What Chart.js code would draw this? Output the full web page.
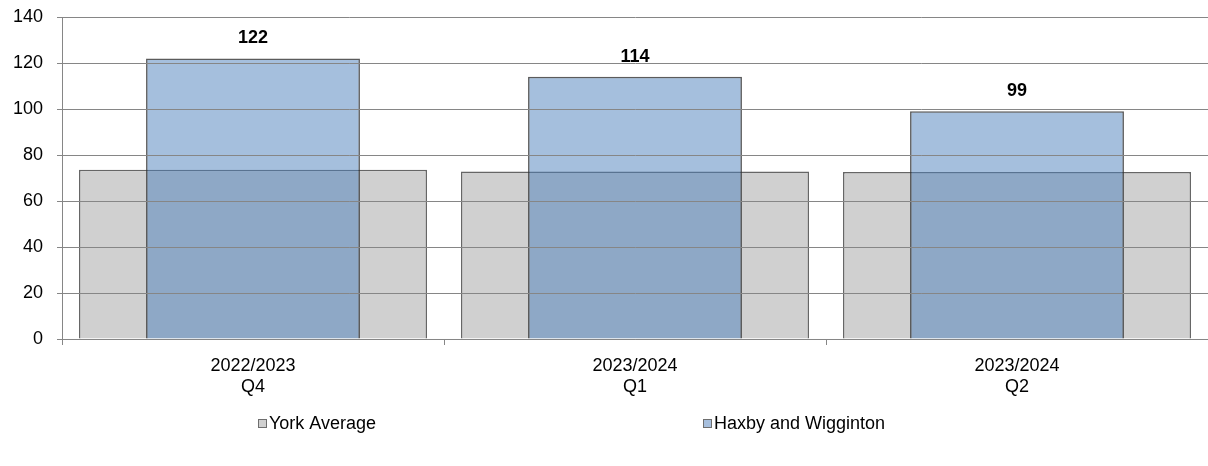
<!DOCTYPE html>
<html>
<head>
<meta charset="utf-8">
<script src="https://cdn.jsdelivr.net/npm/chart.js@4/dist/chart.umd.min.js"></script>
<style>
html,body{margin:0;padding:0;background:#fff;}
#wrap{width:1208px;height:466px;position:relative;}
</style>
</head>
<body>
<div id="wrap"><canvas id="c" width="1208" height="466"></canvas></div>
<script>
const categories = [["2022/2023","Q4"],["2023/2024","Q1"],["2023/2024","Q2"]];
const yorkAverage = [73.6, 72.8, 72.6];
const haxbyWigginton = [122, 114, 99];
const seriesNames = ["York Average", "Haxby and Wigginton"];
const yTicks = [0, 20, 40, 60, 80, 100, 120, 140];

const FONT = "'Liberation Sans', Arial, sans-serif";
const grayFill = '#D0D0D0';
const blueFill = 'rgba(76,127,187,0.5)';
const blueSwatch = '#A7BFDD';

const valueLabels = {
  id: 'valueLabels',
  afterDatasetsDraw(chart) {
    const ctx = chart.ctx;
    const meta = chart.getDatasetMeta(1);
    ctx.save();
    ctx.font = 'bold 18px ' + FONT;
    ctx.fillStyle = '#000';
    ctx.textAlign = 'center';
    ctx.textBaseline = 'bottom';
    meta.data.forEach((bar, i) => {
      ctx.fillText(String(haxbyWigginton[i]), bar.x, bar.y - 11);
    });
    ctx.restore();
  }
};

const customLegend = {
  id: 'customLegend',
  afterDraw(chart) {
    const ctx = chart.ctx;
    const items = [
      {text: seriesNames[0], fill: grayFill, x: 258},
      {text: seriesNames[1], fill: blueSwatch, x: 703}
    ];
    const y = 424;
    ctx.save();
    ctx.font = '18px ' + FONT;
    ctx.textBaseline = 'middle';
    ctx.textAlign = 'left';
    items.forEach(it => {
      ctx.fillStyle = it.fill;
      ctx.fillRect(it.x, y - 5, 9, 9);
      ctx.strokeStyle = '#6e6e6e';
      ctx.lineWidth = 1;
      ctx.strokeRect(it.x + 0.5, y - 4.5, 8, 8);
      ctx.fillStyle = '#000';
      ctx.fillText(it.text, it.x + 11, y);
    });
    ctx.restore();
  }
};

new Chart(document.getElementById('c'), {
  type: 'bar',
  data: {
    labels: categories,
    datasets: [
      {
        label: seriesNames[0],
        data: yorkAverage,
        backgroundColor: grayFill,
        borderColor: '#666666',
        borderWidth: 1.5,
        grouped: false,
        categoryPercentage: 1,
        barPercentage: 0.911,
        order: 2
      },
      {
        label: seriesNames[1],
        data: haxbyWigginton,
        backgroundColor: blueFill,
        borderColor: 'rgba(50,50,50,0.8)',
        borderWidth: 1.5,
        grouped: false,
        categoryPercentage: 1,
        barPercentage: 0.56,
        order: 1
      }
    ]
  },
  options: {
    responsive: false,
    animation: false,
    devicePixelRatio: 1,
    layout: {padding: {top: 17, right: 0, left: 0, bottom: 0}},
    plugins: {
      legend: {display: false},
      tooltip: {enabled: false}
    },
    scales: {
      x: {
        afterFit(scale) { scale.height = 127; scale.paddingTop = 0; },
        grid: {
          display: true,
          offset: true,
          drawOnChartArea: false,
          drawTicks: true,
          tickLength: 6,
          color: '#868686'
        },
        border: {display: true, color: '#868686', width: 1},
        ticks: {
          color: '#000',
          font: {family: FONT, size: 18, lineHeight: 1.15},
          padding: 11,
          maxRotation: 0
        }
      },
      y: {
        min: 0,
        max: 140,
        afterFit(scale) { scale.width = 62; scale.paddingTop = 0; },
        afterBuildTicks(scale) { scale.ticks = yTicks.map(v => ({value: v})); },
        grid: {
          z: 1,
          color: '#868686',
          lineWidth: 1,
          drawTicks: true,
          tickLength: 5
        },
        border: {display: true, color: '#868686', width: 1, z: 1},
        ticks: {
          color: '#000',
          font: {family: FONT, size: 18},
          padding: 14
        }
      }
    }
  },
  plugins: [valueLabels, customLegend]
});
</script>
</body>
</html>
